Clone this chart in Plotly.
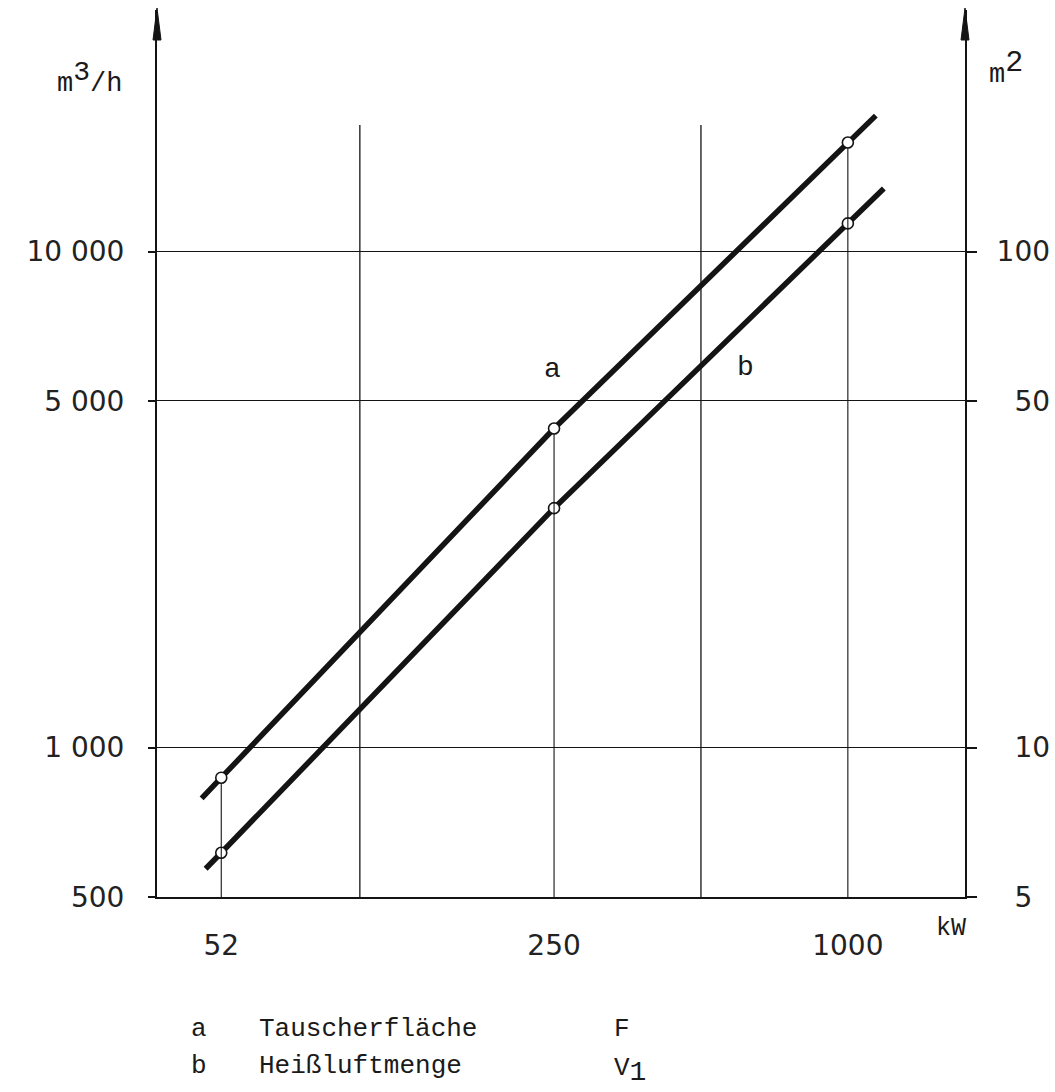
import math
import plotly.graph_objects as go

# Leistung (kW) an den Messpunkten
leistung_kw = [52, 250, 1000]
# a: Tauscherfläche F (m²)
flaeche_m2 = [8.7, 44, 166]
# b: Heißluftmenge V1 (m³/h)
luftmenge_m3h = [614, 3040, 11400]

# Verlängerte Enden der Ausgleichsgeraden
linie_a_kw = [47.4, 1141]
linie_a_m2 = [7.9, 188]
linie_b_kw = [48.3, 1185]
linie_b_m3h = [570, 13400]

# senkrechte Hilfslinien
gitter_kw = [100, 500]
gitter_bis_m3h = 18000

# Achsenteilung
x_ticks = [52, 250, 1000]
x_text = ["52", "250", "1000"]
y_links_ticks = [500, 1000, 5000, 10000]
y_links_text = ["500", "1 000", "5 000", "10 000"]
y_rechts_ticks = [5, 10, 50, 100]
y_rechts_text = ["\u20075", "\u200710", "\u200750", "100"]

# Achsbereiche (log10)
x_bereich = [math.log10(38.4), math.log10(1738)]
y_bereich = [math.log10(500), math.log10(30700)]
FAKTOR = 100  # m³/h-Skala links = 100 x m²-Skala rechts
y2_bereich = [y_bereich[0] - math.log10(FAKTOR), y_bereich[1] - math.log10(FAKTOR)]

W, H = 1055, 1092
L, R, T, B = 157, 90, 10, 195
PW, PH = W - L - R, H - T - B


def px(x):
    return (x - L) / PW


def py(y):
    return (H - B - y) / PH


SCHWARZ = "#141414"
ZAHL_FONT = "DejaVu Sans"
SCHREIB_FONT = "Liberation Mono, Courier New, monospace"

fig = go.Figure()

# senkrechte Gitterlinien bei 100 kW und 500 kW
gx, gy = [], []
for k in gitter_kw:
    gx += [k, k, None]
    gy += [y_links_ticks[0], gitter_bis_m3h, None]
fig.add_trace(go.Scatter(x=gx, y=gy, mode="lines",
                         line=dict(color=SCHWARZ, width=1.3),
                         hoverinfo="skip", showlegend=False))

# Lotlinien von Kurve a auf die Leistungsachse
lx, ly = [], []
for k, f in zip(leistung_kw, flaeche_m2):
    lx += [k, k, None]
    ly += [y_rechts_ticks[0], f, None]
fig.add_trace(go.Scatter(x=lx, y=ly, yaxis="y2", mode="lines",
                         line=dict(color=SCHWARZ, width=1.1),
                         hoverinfo="skip", showlegend=False))

# Kurve a: Tauscherfläche (rechte Achse, m²)
fig.add_trace(go.Scatter(
    x=[linie_a_kw[0]] + leistung_kw + [linie_a_kw[1]],
    y=[linie_a_m2[0]] + flaeche_m2 + [linie_a_m2[1]],
    yaxis="y2", mode="lines",
    line=dict(color=SCHWARZ, width=5.5), name="a", showlegend=False))
fig.add_trace(go.Scatter(
    x=leistung_kw, y=flaeche_m2, yaxis="y2", mode="markers",
    marker=dict(symbol="circle", size=11, color="white",
                line=dict(color=SCHWARZ, width=1.6)),
    showlegend=False))

# Kurve b: Heißluftmenge (linke Achse, m³/h)
fig.add_trace(go.Scatter(
    x=[linie_b_kw[0]] + leistung_kw + [linie_b_kw[1]],
    y=[linie_b_m3h[0]] + luftmenge_m3h + [linie_b_m3h[1]],
    mode="lines", line=dict(color=SCHWARZ, width=5.5),
    name="b", showlegend=False))
fig.add_trace(go.Scatter(
    x=leistung_kw, y=luftmenge_m3h, mode="markers",
    marker=dict(symbol="circle", size=11, color="white",
                line=dict(color=SCHWARZ, width=1.6)),
    showlegend=False))

achse = dict(type="log", showline=True, linecolor=SCHWARZ, linewidth=2,
             zeroline=False, automargin=False,
             tickfont=dict(family=ZAHL_FONT, size=28, color="#222"))

fig.update_layout(
    width=W, height=H,
    margin=dict(l=L, r=R, t=T, b=B),
    paper_bgcolor="white", plot_bgcolor="white",
    showlegend=False,
    xaxis=dict(achse, range=x_bereich, tickmode="array",
               tickvals=x_ticks, ticktext=x_text, ticks="",
               showgrid=False, ticklabelstandoff=22),
    yaxis=dict(achse, range=y_bereich, tickmode="array",
               tickvals=y_links_ticks, ticktext=y_links_text,
               ticks="outside", ticklen=7, tickwidth=1.5, tickcolor=SCHWARZ,
               showgrid=True, gridcolor=SCHWARZ, gridwidth=1.3,
               ticklabelstandoff=18),
    yaxis2=dict(achse, range=y2_bereich, overlaying="y", side="right",
                tickmode="array", tickvals=y_rechts_ticks,
                ticktext=y_rechts_text, ticks="outside", ticklen=10,
                tickwidth=1.5, tickcolor=SCHWARZ, showgrid=False,
                ticklabelstandoff=14),
)

# Pfeilspitzen an beiden Ordinaten
for xa in (0, 1):
    fig.add_shape(type="path", xref="paper", yref="paper",
                  xanchor=xa, yanchor=1, xsizemode="pixel", ysizemode="pixel",
                  path="M -4 -30 L 0 2 L 4 -30 Z",
                  fillcolor=SCHWARZ, line=dict(color=SCHWARZ, width=1))

txt = dict(family=SCHREIB_FONT, color="#1a1a1a")
anmerkungen = [
    (89, 78, "m<sup><span style='font-size:28px'>3</span></sup>/h", 27, "center"),
    (1006, 68, "m<sup><span style='font-size:30px'>2</span></sup>", 27, "center"),
    (951, 929, "kW", 25, "center"),
    (552, 369, "a", 28, "center"),
    (745, 367, "b", 28, "center"),
    (189, 1029, "a", 26, "left"),
    (257, 1029, "Tauscherfläche", 26, "left"),
    (612, 1029, "F", 26, "left"),
    (189, 1066, "b", 26, "left"),
    (257, 1066, "Heißluftmenge", 26, "left"),
    (612, 1070, "V<sub><span style='font-size:28px'>1</span></sub>", 26, "left"),
]
for x, y, t, s, anc in anmerkungen:
    fig.add_annotation(x=px(x), y=py(y), xref="paper", yref="paper",
                       text=t, showarrow=False, xanchor=anc, yanchor="middle",
                       font=dict(txt, size=s))

fig.write_html("out.html")
